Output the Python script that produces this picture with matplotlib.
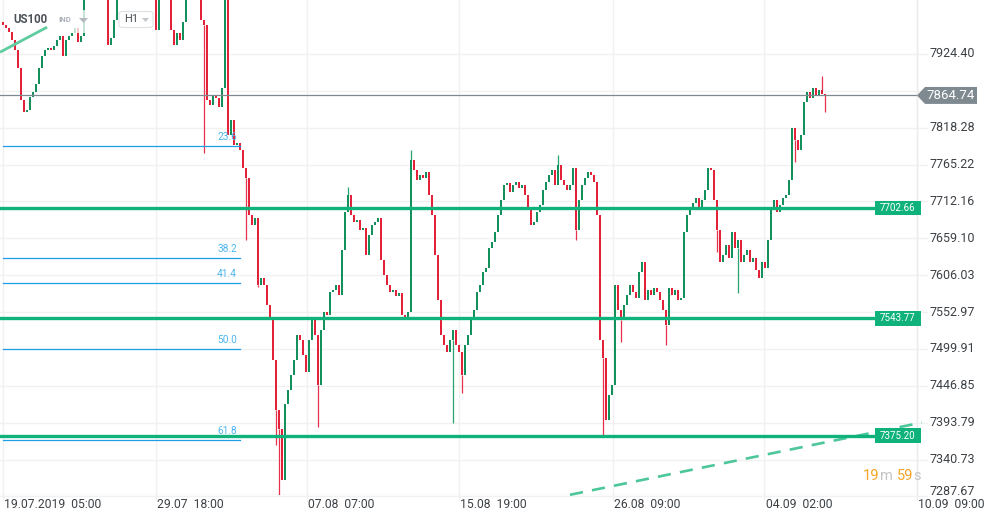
import numpy as np
import matplotlib
matplotlib.use("Agg")
import matplotlib.pyplot as plt
from matplotlib.patches import Rectangle, Polygon, FancyBboxPatch
from matplotlib.transforms import blended_transform_factory

plt.rcParams['font.family'] = ['Roboto', 'DejaVu Sans']

# hourly closes (one bar every ~3 px)
close_prices = [
    7966, 7962, 7956, 7944, 7930, 7904, 7858, 7841, 7844, 7863, 7870, 7881, 7904, 7921,
    7930, 7933, 7930, 7936, 7944, 7950, 7921, 7944, 7950, 7955, 7962, 7942, 7950,
    8008, 8015, 8022, 8018, 8025, 8030, 8020, 8012,
    7937, 7947, 7973,
    8010, 8018, 8025, 8022, 8030, 8035, 8028, 8020, 8026, 8032, 8024, 8015, 8008,
    7959,
    8005, 8012, 8010, 8004,
    7959, 7937, 7955, 7944, 7970,
    8008, 8015, 8020, 8016, 8010,
    7973, 7966, 7858, 7851, 7865, 7861, 7848, 7875, 8005, 7808,
    7829, 7794, 7796, 7786, 7760, 7746, 7693, 7679, 7689, 7592, 7602, 7592, 7563, 7542,
    7484, 7412, 7384,
    7312, 7420,
    7441, 7463, 7484, 7520, 7513, 7491, 7467, 7513, 7545, 7520, 7448, 7527, 7553, 7549,
    7582, 7585, 7592, 7578,
    7643, 7697, 7722, 7693, 7683, 7686, 7671, 7674, 7635, 7664, 7679, 7683, 7689, 7628,
    7607, 7592, 7582, 7585, 7576, 7581, 7549, 7542, 7553,
    7772, 7758, 7743, 7750, 7746, 7755, 7722, 7693, 7635, 7571, 7520, 7506, 7496, 7513,
    7527, 7506, 7496,
    7463, 7506, 7520, 7545, 7556, 7582, 7592, 7611, 7617, 7645, 7654, 7668, 7693, 7714,
    7736, 7739, 7726, 7736, 7740, 7732, 7736, 7722, 7700, 7679, 7683, 7697, 7707, 7729,
    7740, 7750, 7758, 7736, 7765, 7743, 7736, 7729, 7736, 7760, 7671, 7714, 7736, 7746,
    7755, 7750, 7740, 7693,
    7513, 7487, 7398, 7434, 7448, 7592, 7556, 7542, 7563, 7578, 7592, 7582, 7573, 7611,
    7625, 7571, 7585, 7578, 7588, 7582, 7571, 7556, 7535, 7588, 7578, 7585, 7571, 7573,
    7668, 7693, 7700, 7710, 7717, 7700, 7714, 7729, 7760, 7758, 7714, 7671, 7625, 7635,
    7650, 7631, 7668, 7645, 7657, 7625, 7635, 7642, 7625, 7631, 7614, 7602, 7625, 7617,
    7657, 7700, 7714, 7697, 7707, 7717, 7722, 7743, 7818, 7801, 7786, 7808, 7855, 7870,
    7861, 7875, 7865, 7873, 7867, 7864.74,
]
first_open = 7970.0
last_price = 7864.74

# the longer wicks that stand out (bar index, extreme price)
wick_idx = [67, 81, 85, 91, 92, 105, 115, 136, 150, 153, 185, 191, 200, 206,
            221, 238, 245, 264, 273, 274]
wick_end = [7782, 7657, 7589, 7362, 7290, 7388, 7733, 7786, 7394, 7437, 7779, 7657,
            7374, 7510, 7506, 7640, 7581, 7769, 7893, 7841]

x_labels = ["19.07.2019  05:00", "29.07  18:00", "07.08  07:00", "15.08  19:00",
            "26.08  09:00", "04.09  02:00", "10.09  09:00"]
x_label_pos = [0, 50.9, 101.3, 152.0, 203.2, 253.8, 304.6]

y_levels = [7924.40, 7818.28, 7765.22, 7712.16, 7659.10, 7606.03, 7552.97,
            7499.91, 7446.85, 7393.79, 7340.73, 7287.67]
grid_extra = [7871.34]

sr_levels = [7702.66, 7543.77, 7375.20]

fib_names = ["23.6", "38.2", "41.4", "50.0", "61.8"]
fib_prices = [7792, 7631, 7595, 7500, 7369]

trend_solid = ([-1, 14.7], [7927, 7963])
trend_dash = ([189, 306.3], [7290, 7394])

W, H = 989, 521
fig = plt.figure(figsize=(W / 100, H / 100), dpi=100)
ax = fig.add_axes([0, 1 - 495 / H, 917 / W, 495 / H])
ax.set_xlim(-1, 304.67)
ax.set_ylim(7289.7, 8002.1)
for s in ax.spines.values():
    s.set_visible(False)
ax.set_xticks([])
ax.set_yticks([])

def fx(x):
    return x / W

def fy(y):
    return 1 - y / H

bt = blended_transform_factory(ax.transAxes, ax.transData)

# grid
for lv in y_levels + grid_extra:
    ax.axhline(lv, xmin=0, xmax=927 / 917, color='#f1f1f1', lw=1.0, zorder=0, clip_on=False)
for p in x_label_pos:
    ax.axvline(p, ymin=-5 / 495, ymax=1, color='#f1f1f1', lw=1.0, zorder=0, clip_on=False)
ax.axvline(304.67, color='#ececec', lw=1.0, zorder=0, clip_on=False)
ax.axhline(7289.7, color='#e8e8e8', lw=1.0, zorder=0)

# candles
closes = np.array(close_prices)
opens = np.concatenate([[first_open], closes[:-1]])
idx = np.arange(len(closes))
up = closes >= opens
bottom = np.minimum(opens, closes)
height = np.maximum(np.abs(closes - opens), 2.0)
colors = np.where(up, '#14905c', '#e3223a')

# wicks: from the body edge to the extreme
for i, e in zip(wick_idx, wick_end):
    edge = bottom[i] if e < bottom[i] else bottom[i] + height[i]
    c = '#22a56f' if up[i] else '#e8304a'
    ax.vlines(i, min(edge, e), max(edge, e), color=c, lw=0.9, zorder=2)

ax.bar(idx, height, bottom=bottom, width=0.62, color=colors, linewidth=0, zorder=2)

# trend lines
ax.plot(*trend_solid, color='#5fcc9f', lw=2.0, zorder=3, solid_capstyle='butt', clip_on=False)
ax.plot(*trend_dash, color='#4cc79a', lw=1.9, ls=(0, (5, 3.5)), zorder=3, clip_on=False)

# fibonacci levels
for name, lv in zip(fib_names, fib_prices):
    ax.axhline(lv, xmin=3 / 917, xmax=240 / 917, color='#1e9ee8', lw=0.9, zorder=4)
    ax.annotate(name, xy=(237 / 917, lv), xycoords=bt, xytext=(0, 6.5),
                textcoords='offset points', ha='right', va='center',
                fontsize=7.3, color='#4db6f0', zorder=4)

# support / resistance lines with price boxes
for lv in sr_levels:
    ax.axhline(lv, xmin=0, xmax=875 / 917, color='#0fb27b', lw=2.4, zorder=5)
    ax.add_patch(Rectangle((875 / 917, lv - 10.5), 46 / 917, 21, transform=bt,
                           facecolor='#0fb27b', edgecolor='none', zorder=6, clip_on=False))
    ax.text(898 / 917, lv, f"{lv:.2f}", transform=bt, ha='center', va='center',
            fontsize=7, color='white', zorder=7, clip_on=False)

# last price line + tag
ax.axhline(last_price, color='#7f8a90', lw=0.9, zorder=5)
ph = 12.2
tag = Polygon([(917 / 917, last_price), (925 / 917, last_price + ph),
               (977 / 917, last_price + ph), (977 / 917, last_price - ph),
               (925 / 917, last_price - ph)], closed=True, transform=bt,
              facecolor='#7f8a90', edgecolor='none', zorder=6, clip_on=False)
ax.add_patch(tag)
ax.text(951 / 917, last_price, f"{last_price:.2f}", transform=bt, ha='center', va='center',
        fontsize=9.5, color='white', zorder=7, clip_on=False)

# right axis labels
for lv in y_levels:
    y = max(lv, 7289.7 + 4 * 1.439)
    ax.text(929 / 917, y, f"{lv:.2f}", transform=bt, ha='left', va='center',
            fontsize=9, color='#3c4146', clip_on=False)

# bottom axis labels
for p, lab in zip(x_label_pos, x_labels):
    ax.annotate(lab, xy=(p, 0), xycoords=('data', 'axes fraction'), xytext=(1, -7),
                textcoords='offset points', ha='left', va='center',
                fontsize=8.7, color='#3c4146', annotation_clip=False)

# header
fig.patches.append(Rectangle((fx(55), fy(33)), 37 / W, 23 / H, transform=fig.transFigure,
                             facecolor='white', alpha=0.75, edgecolor='none', zorder=8))
fig.text(fx(13), fy(19.5), "US100", fontsize=8.3, fontweight='bold', color='#4b5157',
         ha='left', va='center', zorder=9)
fig.text(fx(58), fy(20), "IND", fontsize=5.6, fontweight='bold', color='#a9b0b7',
         ha='left', va='center', zorder=9)
fig.patches.append(Polygon([(fx(79), fy(18)), (fx(88), fy(18)), (fx(83.5), fy(23))],
                           transform=fig.transFigure, facecolor='#b3b9be',
                           edgecolor='none', zorder=9))
fig.patches.append(FancyBboxPatch((fx(119), fy(27.5)), 34 / W, 16 / H,
                                  boxstyle="round,pad=0,rounding_size=0.004",
                                  transform=fig.transFigure, facecolor='white',
                                  edgecolor='#dde1e4', lw=0.8, zorder=8))
fig.text(fx(124), fy(19.5), "H1", fontsize=8, color='#4b5157', ha='left', va='center', zorder=9)
fig.patches.append(Polygon([(fx(142), fy(18)), (fx(149), fy(18)), (fx(145.5), fy(22))],
                           transform=fig.transFigure, facecolor='#c3c8cc',
                           edgecolor='none', zorder=9))

# countdown
for xp, s, c in [(863, "19", '#f5a524'), (880, "m", '#c4c4c4'),
                 (897, "59", '#f5a524'), (913.5, "s", '#c4c4c4')]:
    fig.text(fx(xp), fy(476), s, fontsize=10.5, color=c, ha='left', va='center')

fig.savefig("out.png", dpi=100)
